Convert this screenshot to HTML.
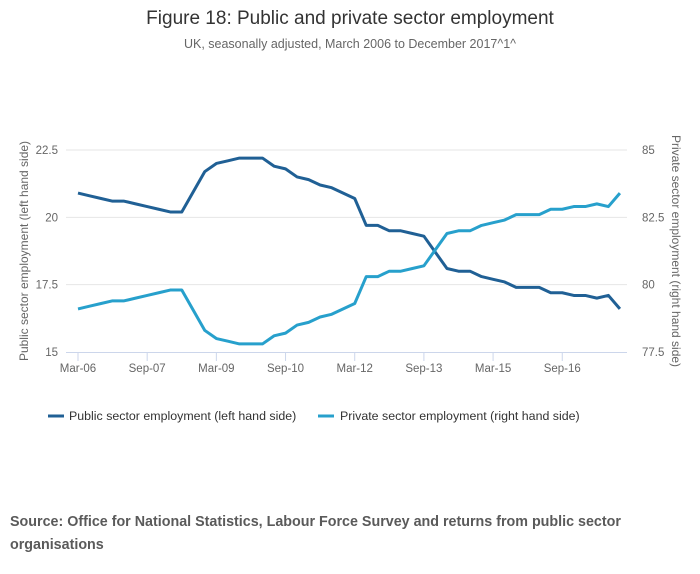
<!DOCTYPE html>
<html><head><meta charset="utf-8"><style>
body{margin:0;background:#fff;font-family:"Liberation Sans",sans-serif;}
#wrap{position:relative;width:700px;height:574px;overflow:hidden;}
.src{position:absolute;left:10px;top:511px;font-size:14.3px;font-weight:bold;color:#5a5a5a;line-height:23px;width:680px;}
</style></head><body>
<div id="wrap">
<svg id="chart" width="700" height="500" style="position:absolute;left:0;top:0">
<text x="350" y="24" text-anchor="middle" font-size="19" fill="#333">Figure 18: Public and private sector employment</text>
<text x="350" y="48" text-anchor="middle" font-size="12.5" fill="#666">UK, seasonally adjusted, March 2006 to December 2017^1^</text>
<g id="grid"></g><g id="axes"></g><g id="series"></g>
<text transform="translate(28,251) rotate(-90)" text-anchor="middle" font-size="12" fill="#666">Public sector employment (left hand side)</text>
<text transform="translate(672,251) rotate(90)" text-anchor="middle" font-size="12" fill="#666">Private sector employment (right hand side)</text>
<g><line x1="48" y1="416" x2="64" y2="416" stroke="#206095" stroke-width="3"/><text x="69" y="420" font-size="12.4" fill="#333">Public sector employment (left hand side)</text></g>
<g><line x1="318" y1="416" x2="334" y2="416" stroke="#27a0cc" stroke-width="3"/><text x="340" y="420" font-size="12.4" fill="#333">Private sector employment (right hand side)</text></g>
</svg>
<div class="src">Source: Office for National Statistics, Labour Force Survey and returns from public sector organisations</div>
</div>
<script>
const publicVals=[20.9,20.8,20.7,20.6,20.6,20.5,20.4,20.3,20.2,20.2,20.95,21.7,22.0,22.1,22.2,22.2,22.2,21.9,21.8,21.5,21.4,21.2,21.1,20.9,20.7,19.7,19.7,19.5,19.5,19.4,19.3,18.7,18.1,18.0,18.0,17.8,17.7,17.6,17.4,17.4,17.4,17.2,17.2,17.1,17.1,17.0,17.1,16.6];
const privateVals=[79.1,79.2,79.3,79.4,79.4,79.5,79.6,79.7,79.8,79.8,79.05,78.3,78.0,77.9,77.8,77.8,77.8,78.1,78.2,78.5,78.6,78.8,78.9,79.1,79.3,80.3,80.3,80.5,80.5,80.6,80.7,81.3,81.9,82.0,82.0,82.2,82.3,82.4,82.6,82.6,82.6,82.8,82.8,82.9,82.9,83.0,82.9,83.4];
const xLabels=["Mar-06","Sep-07","Mar-09","Sep-10","Mar-12","Sep-13","Mar-15","Sep-16"];
const leftTicks=[15,17.5,20,22.5];
const rightTicks=[77.5,80,82.5,85];
const NS="http://www.w3.org/2000/svg";
const x0=78,step=11.53,yTop=150,yBot=352,plotL=66,plotR=627;
const xS=i=>x0+i*step;
const yL=v=>yBot-(v-15)/7.5*(yBot-yTop);
const yR=v=>yBot-(v-77.5)/7.5*(yBot-yTop);
function mk(tag,attrs,parent){const e=document.createElementNS(NS,tag);for(const k in attrs)e.setAttribute(k,attrs[k]);parent.appendChild(e);return e;}
const grid=document.getElementById('grid'),axes=document.getElementById('axes'),series=document.getElementById('series');
leftTicks.forEach((t,k)=>{
  const y=yL(t);
  if(k>0){const g=mk('line',{x1:plotL,x2:plotR,y1:y,y2:y,stroke:'#e6e6e6','stroke-width':1},grid);
  
  }
  const tx=mk('text',{x:58,y:y+4,'text-anchor':'end','font-size':11.5,fill:'#666'},axes);tx.textContent=t;
  
  
});
rightTicks.forEach(t=>{
  const tx=mk('text',{x:642,y:yR(t)+4,'font-size':11.5,fill:'#666'},axes);tx.textContent=t;
  
  
});
const base=mk('line',{x1:plotL,x2:plotR,y1:yBot+0.5,y2:yBot+0.5,stroke:'#ccd6eb','stroke-width':1},axes);


xLabels.forEach((l,k)=>{
  const x=xS(k*6);
  mk('line',{x1:x,x2:x,y1:yBot,y2:yBot+9,stroke:'#ccd6eb'},axes);
  const tx=mk('text',{x:x,y:372,'text-anchor':'middle','font-size':11.5,fill:'#666'},axes);tx.textContent=l;
  
  
});
const p1=mk('polyline',{points:publicVals.map((v,i)=>xS(i)+','+yL(v)).join(' '),fill:'none',stroke:'#206095','stroke-width':3,'stroke-linejoin':'round'},series);


const p2=mk('polyline',{points:privateVals.map((v,i)=>xS(i)+','+yR(v)).join(' '),fill:'none',stroke:'#27a0cc','stroke-width':3,'stroke-linejoin':'round'},series);


</script>
</body></html>
